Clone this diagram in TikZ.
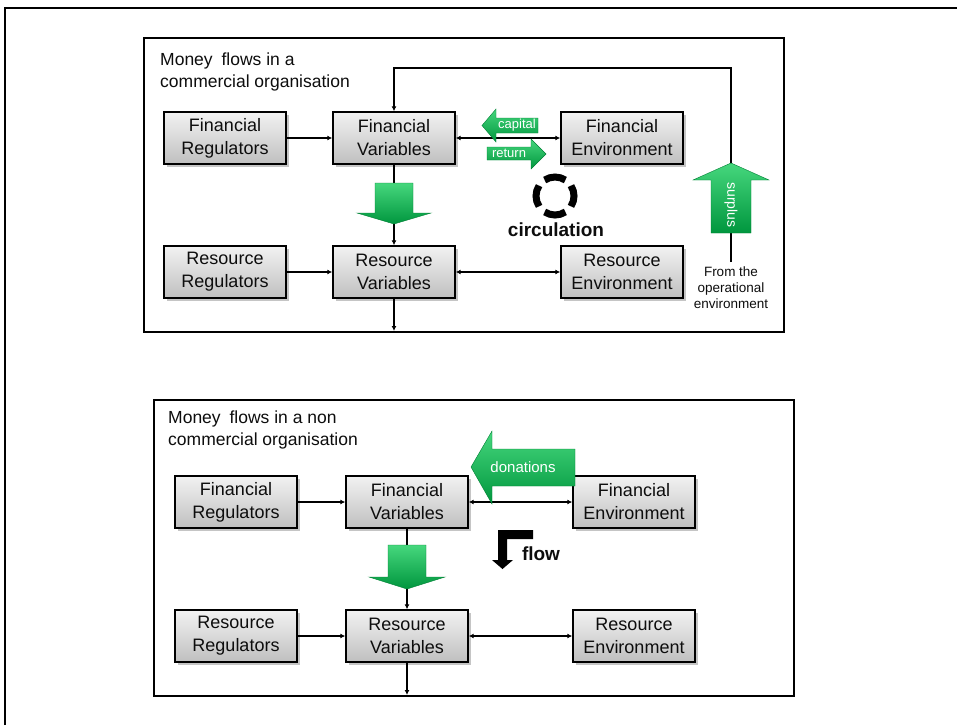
\documentclass[tikz,border=0pt]{standalone}
\usepackage{fontspec}
\setmainfont{Liberation Sans}
\usetikzlibrary{shadows,arrows.meta}
\definecolor{gdark}{RGB}{0,150,62}
\definecolor{glight}{RGB}{70,215,125}
\tikzset{
  box/.style={draw=black, line width=1.4pt, minimum width=122pt, minimum height=52pt, inner sep=0pt, align=center, top color=black!5, bottom color=black!25, text=black!95, font=\fontsize{18}{23}\selectfont, drop shadow={shadow xshift=2.5pt, shadow yshift=-2.5pt, opacity=.45}},
  panel/.style={draw=black, line width=1.6pt, fill=white, inner sep=0pt, anchor=north west, drop shadow={shadow xshift=1.5pt, shadow yshift=-1.5pt, opacity=.3}},
  title/.style={anchor=north west, align=left, inner sep=0pt, font=\fontsize{17.5}{22}\selectfont, text=black!95},
  conn/.style={line width=1.3pt, -{Latex[length=5pt,width=5pt]}},
  dconn/.style={line width=1.3pt, {Latex[length=5pt,width=5pt]}-{Latex[length=5pt,width=5pt]}},
  garrow/.style={top color=glight, bottom color=gdark, draw=gdark!85!black, line width=0.4pt},
  atext/.style={text=white, inner sep=0pt, font=\fontsize{13}{13}\selectfont},
  boldtext/.style={font=\bfseries\fontsize{19}{19}\selectfont, text=black!95, inner sep=0pt},
  smalltext/.style={align=center, inner sep=0pt, font=\fontsize{13.5}{16}\selectfont, text=black!95},
}
\begin{document}
\begin{tikzpicture}[x=1pt,y=-1pt]
\useasboundingbox (0,0) rectangle (957,725);
\draw[line width=1.6pt] (5,725) -- (5,8) -- (957,8);

% ---------- Panel 1 ----------
\node[panel, minimum width=640pt, minimum height=294pt] (p1) at (143,37) {};
\node[title] (t1) at (160,53) {Money\hspace{4pt} flows in a\\commercial organisation};

\node[box] (fr1) at (225,138) {Financial\\Regulators};
\node[box] (fv1) at (394,138) {Financial\\Variables};
\node[box] (fe1) at (622,138) {Financial\\Environment};
\node[box] (rr1) at (225,272) {Resource\\Regulators};
\node[box] (rv1) at (394,272) {Resource\\Variables};
\node[box] (re1) at (622,272) {Resource\\Environment};

\draw[conn] (fr1) -- (fv1);
\draw[dconn] (fv1) -- (fe1);
\draw[conn] (rr1) -- (rv1);
\draw[dconn] (rv1) -- (re1);
\draw[conn] (fv1) -- (rv1);
\coordinate (o1) at (394,331);
\draw[conn] (rv1) -- (o1);
\coordinate (s1) at (731,262);
\coordinate (k1) at (731,68);
\draw[conn] (s1) -- (k1) -| (fv1.north);

% green down arrow
\path[garrow] (375,183) -- (413,183) -- (413,213) -- (431,213) -- (394,224) -- (357,213) -- (375,213) -- cycle;
% surplus arrow
\path[garrow] (711,233) -- (711,180) -- (693,180) -- (731,163) -- (769,180) -- (751,180) -- (751,233) -- cycle;
\node[atext, rotate=-90, font=\fontsize{14}{14}\selectfont] (sur) at (731,205) {surplus};
% capital arrow
\path[garrow] (482,125.5) -- (496,109) -- (496,118) -- (538,118) -- (538,133) -- (496,133) -- (496,142) -- cycle;
\node[atext] (cap) at (517,125) {capital};
% return arrow
\path[garrow] (487,147) -- (531,147) -- (531,139) -- (546,154) -- (531,169) -- (531,160) -- (487,160) -- cycle;
\node[atext] (ret) at (509,153) {return};

% circulation
\coordinate (cc) at (555,196);
\foreach \a in {0,90,180,270}
  \draw[line width=7pt] (cc) ++(\a-33:19) arc[start angle=\a-33, delta angle=66, radius=19];
\node[boldtext] (circ) at (556,230) {circulation};

\node[smalltext] (op) at (731,288) {From the\\operational\\environment};

% ---------- Panel 2 ----------
\node[panel, minimum width=640pt, minimum height=296pt] (p2) at (153,399) {};
\node[title] (t2) at (168,411) {Money\hspace{4pt} flows in a non\\commercial organisation};

\node[box] (fr2) at (236,502) {Financial\\Regulators};
\node[box] (fv2) at (407,502) {Financial\\Variables};
\node[box] (fe2) at (634,502) {Financial\\Environment};
\node[box] (rr2) at (236,636) {Resource\\Regulators};
\node[box] (rv2) at (407,636) {Resource\\Variables};
\node[box] (re2) at (634,636) {Resource\\Environment};

\draw[conn] (fr2) -- (fv2);
\draw[dconn] (fv2) -- (fe2);
\draw[conn] (rr2) -- (rv2);
\draw[dconn] (rv2) -- (re2);
\draw[conn] (fv2) -- (rv2);
\coordinate (o2) at (407,695);
\draw[conn] (rv2) -- (o2);

% green down arrow
\path[garrow] (388,545) -- (426,545) -- (426,577) -- (445,577) -- (407,589) -- (369,577) -- (388,577) -- cycle;
% donations arrow
\path[garrow] (471,467) -- (492,431) -- (492,449) -- (575,449) -- (575,486) -- (492,486) -- (492,504) -- cycle;
\node[atext, font=\fontsize{15}{15}\selectfont] (don) at (523,467) {donations};

% flow bent arrow
\fill[black] (498,530) -- (533,530) -- (533,539) -- (507,539) -- (507,560) -- (513,560) -- (502.5,569) -- (492,560) -- (498,560) -- cycle;
\node[boldtext] (flw) at (541,554) {flow};
\end{tikzpicture}
\end{document}
